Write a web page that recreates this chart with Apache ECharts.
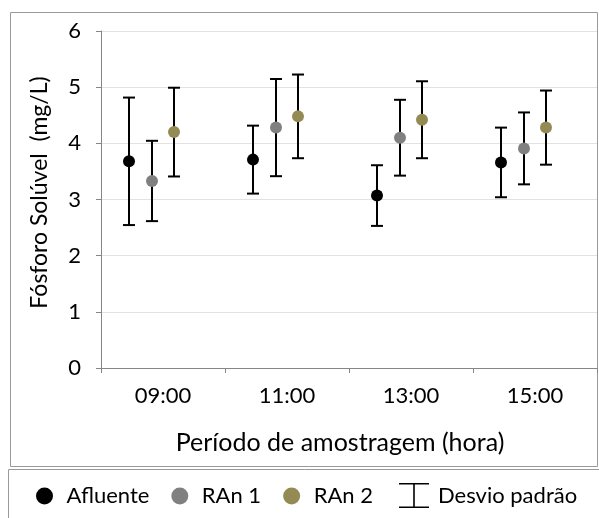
<!DOCTYPE html>
<html>
<head>
<meta charset="utf-8">
<script src="https://cdn.jsdelivr.net/npm/echarts@6/dist/echarts.min.js"></script>
<style>
  html, body { margin: 0; padding: 0; background: #fff; }
  #chart { width: 599px; height: 518px; }
</style>
</head>
<body>
<div id="chart"></div>
<script>
// horários de coleta
var categories = ['09:00', '11:00', '13:00', '15:00'];

// médias e desvios (mg/L)
var afluenteMean = [3.68, 3.71, 3.07, 3.66];
var afluenteSd   = [1.135, 0.605, 0.54, 0.62];
var ran1Mean     = [3.33, 4.28, 4.10, 3.91];
var ran1Sd       = [0.715, 0.865, 0.675, 0.64];
var ran2Mean     = [4.20, 4.48, 4.42, 4.28];
var ran2Sd       = [0.79, 0.745, 0.685, 0.66];

var FONT = 'Lato';
var AXIS_COLOR = '#868686';

// barra de erro desenhada com deslocamento em pixels dentro da categoria
function errorBars(mean, sd, offset) {
    return {
        name: 'Desvio padrão',
        type: 'custom',
        z: 2,
        data: mean.map(function (m, i) { return [i, m - sd[i], m + sd[i]]; }),
        renderItem: function (params, api) {
            var x = api.coord([api.value(0), 0])[0] + offset;
            var lo = api.coord([api.value(0), api.value(1)])[1];
            var hi = api.coord([api.value(0), api.value(2)])[1];
            var style = { stroke: '#000', lineWidth: 2 };
            return {
                type: 'group',
                children: [
                    { type: 'line', shape: { x1: x, y1: hi, x2: x, y2: lo }, style: style },
                    { type: 'line', shape: { x1: x - 6, y1: hi, x2: x + 6, y2: hi }, style: style },
                    { type: 'line', shape: { x1: x - 6, y1: lo, x2: x + 6, y2: lo }, style: style }
                ]
            };
        }
    };
}

function means(name, data, color, offset) {
    return {
        name: name,
        type: 'scatter',
        z: 3,
        data: data,
        symbol: 'circle',
        symbolSize: 12,
        symbolOffset: [offset, 0],
        itemStyle: { color: color, opacity: 1 }
    };
}

var myChart = echarts.init(document.getElementById('chart'));

var option = {
    animation: false,
    textStyle: { fontFamily: FONT },
    grid: { left: 101, right: 2, top: 31, bottom: 150 },
    graphic: [
        { type: 'rect', shape: { x: 10.5, y: 12.5, width: 587, height: 454 },
          style: { fill: 'none', stroke: '#9a9a9a', lineWidth: 1 }, silent: true },
        { type: 'rect', shape: { x: 8.5, y: 469.5, width: 595, height: 60 },
          style: { fill: 'none', stroke: '#9a9a9a', lineWidth: 1 }, silent: true }
    ],
    legend: [
        {
            left: 31, top: 480,
            itemWidth: 34, itemHeight: 17, itemGap: 22,
            textStyle: { fontFamily: FONT, fontSize: 22, color: '#000' },
            data: [
                { name: 'Afluente', icon: 'circle' },
                { name: 'RAn 1', icon: 'circle' },
                { name: 'RAn 2', icon: 'circle' }
            ]
        },
        {
            left: 394, top: 478,
            itemWidth: 30, itemHeight: 25,
            textStyle: { fontFamily: FONT, fontSize: 22, color: '#000', padding: [0, 0, 0, 4] },
            data: [{
                name: 'Desvio padrão',
                icon: 'path://M0,0h30v1.6h-30z M14.2,0h1.6v25h-1.6z M0,23.4h30v1.6h-30z',
                itemStyle: { color: '#000' }
            }]
        }
    ],
    xAxis: {
        type: 'category',
        data: categories,
        boundaryGap: true,
        name: 'Período de amostragem (hora)',
        nameLocation: 'middle',
        nameGap: 62,
        nameTextStyle: { fontFamily: FONT, fontSize: 25, color: '#000', padding: [0, 18, 0, 0] },
        axisLine: { lineStyle: { color: AXIS_COLOR, width: 1 } },
        axisTick: { show: true, length: 5, lineStyle: { color: AXIS_COLOR } },
        axisLabel: { fontFamily: FONT, fontSize: 22, color: '#000', margin: 17 },
        splitLine: { show: false }
    },
    yAxis: {
        type: 'value',
        min: 0, max: 6, interval: 1,
        name: 'Fósforo Solúvel  (mg/L)',
        nameLocation: 'middle',
        nameRotate: 90,
        nameGap: 50,
        nameTextStyle: { fontFamily: FONT, fontSize: 23, color: '#000', padding: [0, 0, 0, 14] },
        axisLine: { show: true, lineStyle: { color: AXIS_COLOR, width: 1 } },
        axisTick: { show: true, length: 5, lineStyle: { color: AXIS_COLOR } },
        axisLabel: { fontFamily: FONT, fontSize: 22, color: '#000', margin: 20 },
        splitLine: { show: true, lineStyle: { color: '#e2e2e2', width: 1 } }
    },
    series: [
        errorBars(afluenteMean, afluenteSd, -34),
        errorBars(ran1Mean, ran1Sd, -11),
        errorBars(ran2Mean, ran2Sd, 11),
        means('Afluente', afluenteMean, '#000000', -34),
        means('RAn 1', ran1Mean, '#808080', -11),
        means('RAn 2', ran2Mean, '#948a54', 11)
    ]
};

myChart.setOption(option);
</script>
</body>
</html>
